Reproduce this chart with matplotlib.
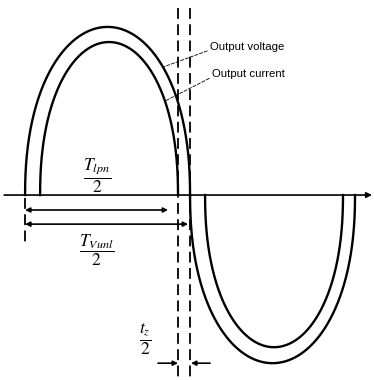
import numpy as np
import matplotlib
matplotlib.use("Agg")
import matplotlib.pyplot as plt

plt.rcParams['mathtext.fontset'] = 'stix'
plt.rcParams['font.family'] = ['Liberation Sans', 'DejaVu Sans']

# lobes of the two waveforms (time in units of T_Vunl/2, amplitude relative)
volt_start = [0.0, 1.0]
volt_end = [1.0, 2.0]
volt_amp = [1.0, -1.0]
curr_start = [0.091, 1.091]
curr_end = [0.927, 1.927]
curr_amp = [0.91, -0.905]

# markers on the time axis
t_lpn = 0.867     # end of T_lpn/2 arrow
t_vunl = 0.988    # end of T_Vunl/2 arrow
t_z0, t_z1 = 0.927, 1.0   # dashed lines around the zero crossing


def lobe(t0, t1, amp, n=300):
    th = np.linspace(0, np.pi, n)
    u = -np.cos(th)
    x = t0 + (u + 1) / 2 * (t1 - t0)
    y = amp * np.clip(1 - u ** 2, 0, None) ** (1 / 2.2)
    return x, y


def lobe_at(t0, t1, amp, t):
    u = (t - t0) / (t1 - t0) * 2 - 1
    return amp * (1 - u ** 2) ** (1 / 2.2)


fig = plt.figure(figsize=(3.74, 3.80), dpi=100)
ax = fig.add_axes([0, 0, 1, 1])
ax.set_xlim(-0.152, 2.115)
ax.set_ylim(-1.10, 1.16)
ax.axis('off')

for a, b, A in zip(volt_start, volt_end, volt_amp):
    x, y = lobe(a, b, A)
    ax.plot(x, y, color='black', lw=1.7)
for a, b, A in zip(curr_start, curr_end, curr_amp):
    x, y = lobe(a, b, A)
    ax.plot(x, y, color='black', lw=1.7)

# time axis
ax.annotate('', xy=(2.103, 0), xytext=(-0.127, 0),
            arrowprops=dict(arrowstyle='-|>', lw=1.2, color='black',
                            mutation_scale=8, shrinkA=0, shrinkB=0))

# dashed verticals
for tx in (t_z0, t_z1):
    ax.plot([tx, tx], [1.11, -1.10], color='black', lw=1.3, dashes=(6, 3))
ax.plot([0, 0], [-0.02, -0.30], color='black', lw=1.3, dashes=(6, 3))

arw = dict(arrowstyle='<|-|>', lw=1.2, color='black', mutation_scale=7,
           shrinkA=0, shrinkB=0)
ax.annotate('', xy=(t_lpn, -0.089), xytext=(0, -0.089), arrowprops=arw)
ax.annotate('', xy=(t_vunl, -0.173), xytext=(0, -0.173), arrowprops=arw)

one = dict(arrowstyle='-|>', lw=1.2, color='black', mutation_scale=7,
           shrinkA=0, shrinkB=0)
ax.annotate('', xy=(t_z0, -1.0), xytext=(0.806, -1.0), arrowprops=one)
ax.annotate('', xy=(t_z1 + 0.006, -1.0), xytext=(1.121, -1.0), arrowprops=one)

ax.text(0.436, 0.113, r'$\dfrac{T_{lpn}}{2}$', fontsize=12.5, ha='center', va='center')
ax.text(0.436, -0.327, r'$\dfrac{T_{Vunl}}{2}$', fontsize=12.5, ha='center', va='center')
ax.text(0.727, -0.857, r'$\dfrac{t_z}{2}$', fontsize=12.5, ha='center', va='center')

# labels with leader lines
tv = 0.836
ax.annotate('Output voltage', xy=(tv, lobe_at(volt_start[0], volt_end[0], volt_amp[0], tv)),
            xytext=(1.121, 0.881), fontsize=8.2, va='center', ha='left',
            arrowprops=dict(arrowstyle='-', lw=0.6, color='black', ls=(0, (4, 2)),
                            shrinkA=0, shrinkB=0, relpos=(0, 0.2)))
tc = 0.848
ax.annotate('Output current', xy=(tc, lobe_at(curr_start[0], curr_end[0], curr_amp[0], tc)),
            xytext=(1.133, 0.72), fontsize=8.2, va='center', ha='left',
            arrowprops=dict(arrowstyle='-', lw=0.6, color='black', ls=(0, (4, 2)),
                            shrinkA=0, shrinkB=0, relpos=(0, 0.2)))

fig.savefig('out.png', dpi=100)
